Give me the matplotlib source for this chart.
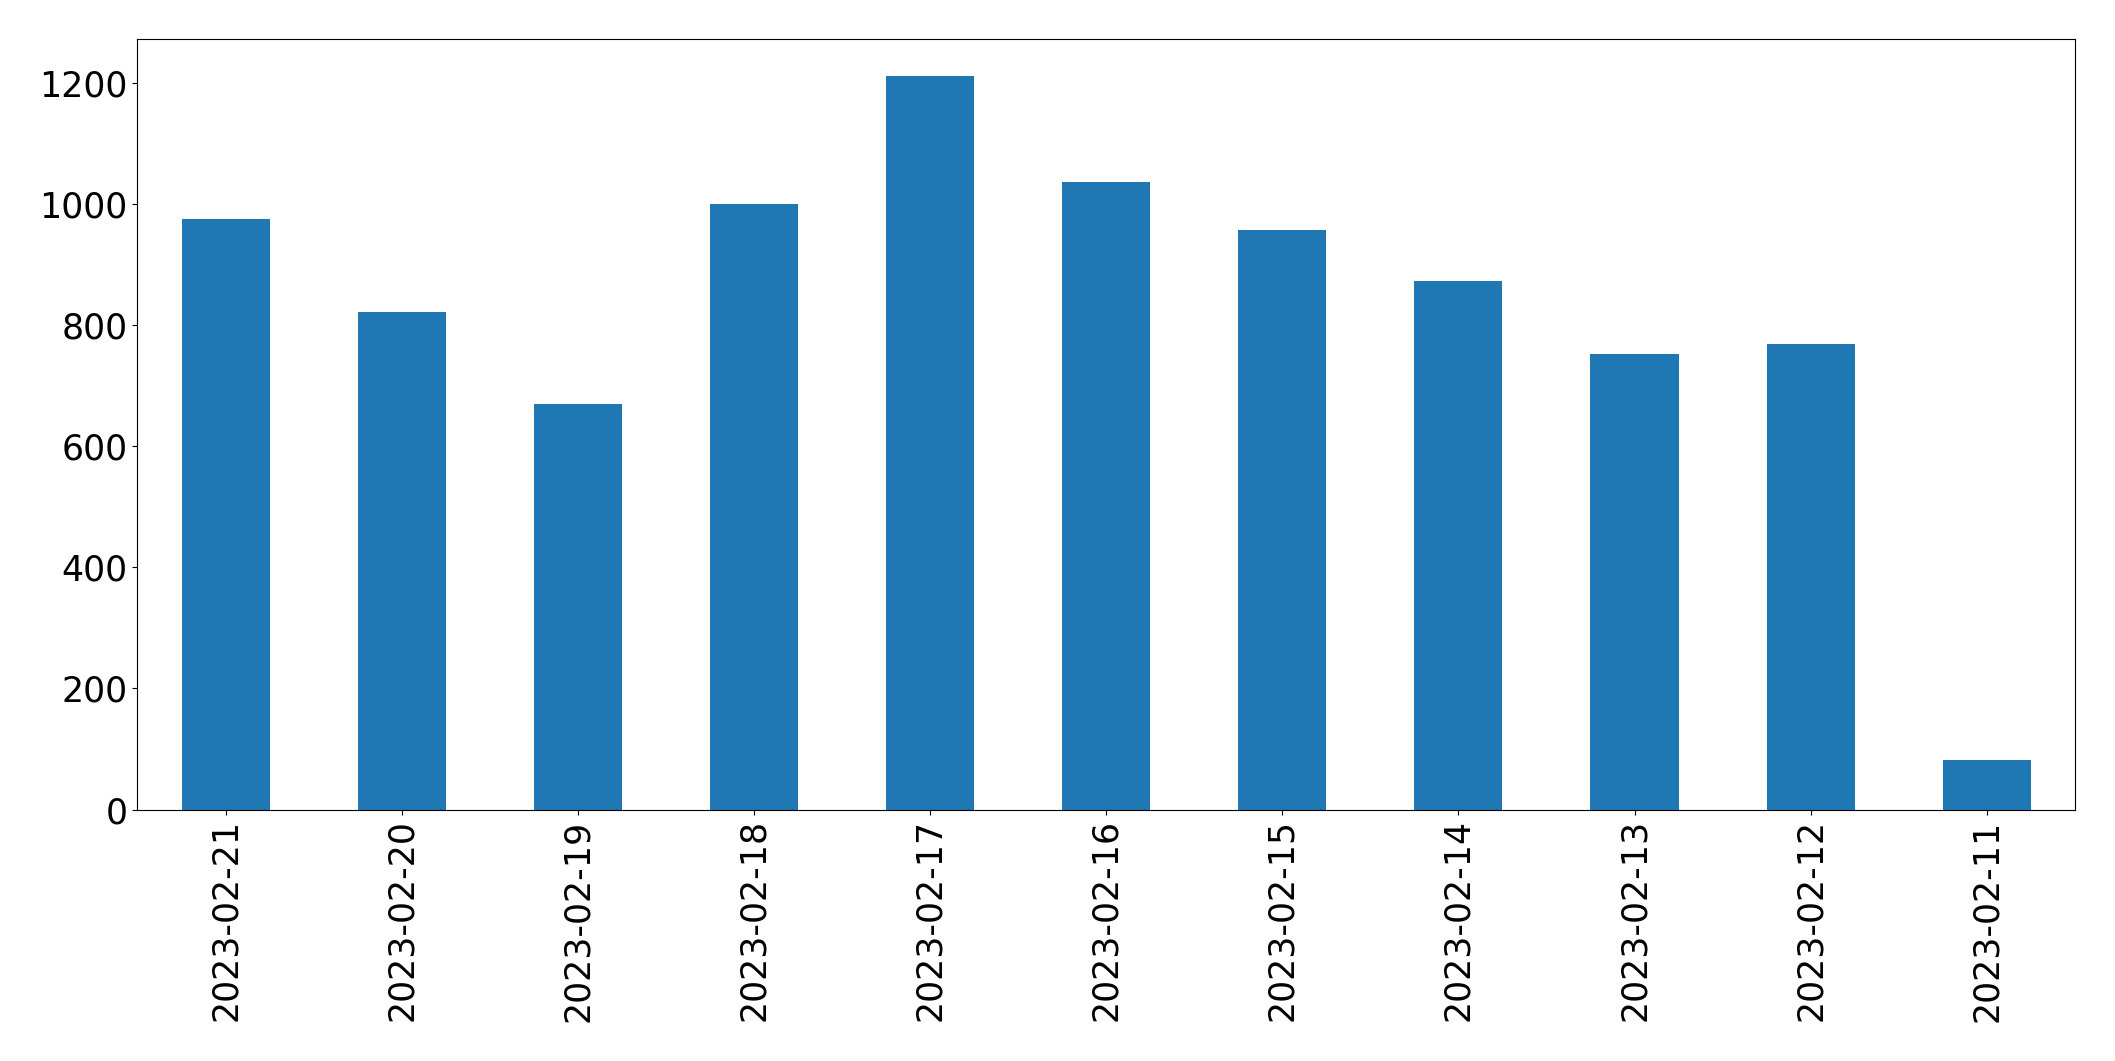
import matplotlib

matplotlib.use("Agg")
import matplotlib.pyplot as plt
import numpy as np

dates = [
    "2023-02-21", "2023-02-20", "2023-02-19", "2023-02-18", "2023-02-17",
    "2023-02-16", "2023-02-15", "2023-02-14", "2023-02-13", "2023-02-12",
    "2023-02-11",
]
counts = [975, 822, 669, 999, 1211, 1036, 956, 873, 752, 769, 81]

fig, ax = plt.subplots(figsize=(21.15, 10.61), dpi=100)
x = np.arange(len(dates))
ax.bar(x, counts, width=0.5, color="#1f77b4")
ax.set_xlim(-0.5, len(dates) - 0.5)
ax.set_xticks(x)
ax.set_xticklabels(dates, rotation=90)
ax.tick_params(axis="both", labelsize=25)
fig.subplots_adjust(left=0.065, right=0.981, top=0.963, bottom=0.237)
fig.savefig("out.png", dpi=100)
plt.close(fig)
